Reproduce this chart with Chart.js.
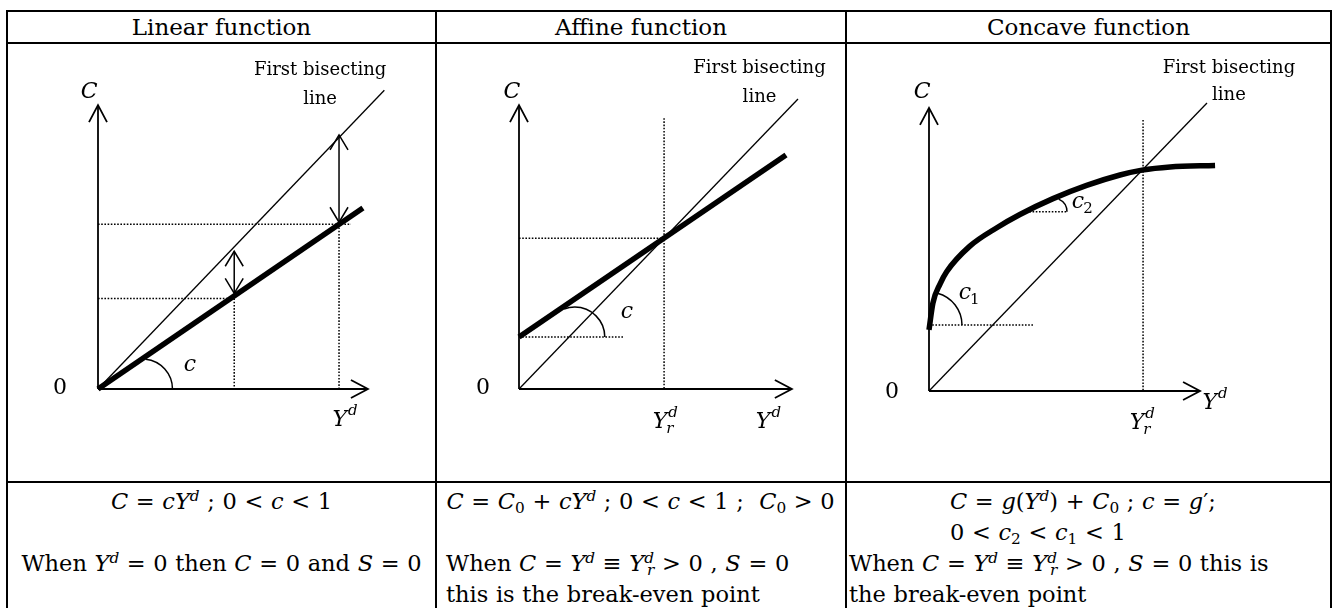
<!DOCTYPE html>
<html>
<head>
<meta charset="utf-8">
<script src="https://cdn.jsdelivr.net/npm/chart.js@4.4.1/dist/chart.umd.min.js"></script>
<style>
html, body { margin: 0; padding: 0; background: #fff; width: 1333px; height: 608px; overflow: hidden; }
body { font-family: "DejaVu Serif", serif; color: #000; position: relative; }
.hl, .vl { position: absolute; background: #000; }
.hl { height: 2px; left: 6px; width: 1326px; }
.vl { width: 2px; top: 10px; height: 620px; }
.head { position: absolute; top: 12px; height: 30px; line-height: 30px; text-align: center; font-size: 23px; }
.foot { position: absolute; top: 486px; font-size: 22.5px; line-height: 31px; white-space: nowrap; word-spacing: 0.5px; }
.foot sup, .foot sub { font-size: 0.68em; line-height: 0; }
.foot sup { vertical-align: 0.5em; }
.foot sub { vertical-align: -0.25em; }
canvas { position: absolute; }
</style>
</head>
<body>
<div class="hl" style="top:10px"></div>
<div class="hl" style="top:42px"></div>
<div class="hl" style="top:481px"></div>
<div class="vl" style="left:6px"></div>
<div class="vl" style="left:435px"></div>
<div class="vl" style="left:845px"></div>
<div class="vl" style="left:1330px"></div>

<div class="head" style="left:8px;width:427px">Linear function</div>
<div class="head" style="left:437px;width:408px">Affine function</div>
<div class="head" style="left:847px;width:483px">Concave function</div>

<canvas id="linear"></canvas>
<canvas id="affine"></canvas>
<canvas id="concave"></canvas>

<div class="foot" style="left:8px;width:427px;text-align:center">
  <div><i>C</i> = <i>cY</i><sup><i>d</i></sup> ; 0 &lt; <i>c</i> &lt; 1</div>
  <div>&nbsp;</div>
  <div>When <i>Y</i><sup><i>d</i></sup> = 0 then <i>C</i> = 0 and <i>S</i> = 0</div>
</div>
<div class="foot" style="left:446px;width:398px">
  <div style="text-align:center;margin-left:-9px"><i>C</i> = <i>C</i><sub>0</sub> + <i>cY</i><sup><i>d</i></sup> ; 0 &lt; <i>c</i> &lt; 1 ;&nbsp; <i>C</i><sub>0</sub> &gt; 0</div>
  <div>&nbsp;</div>
  <div>When <i>C</i> = <i>Y</i><sup><i>d</i></sup> ≡ <i>Y</i><sup><i>d</i></sup><sub style="margin-left:-0.45em"><i>r</i></sub> &gt; 0 , <i>S</i> = 0</div>
  <div>this is the break-even point</div>
</div>
<div class="foot" style="left:849px;width:480px">
  <div style="padding-left:101px"><i>C</i> = <i>g</i>(<i>Y</i><sup><i>d</i></sup>) + <i>C</i><sub>0</sub> ; <i>c</i> = <i>g</i>′;</div>
  <div style="padding-left:101px">0 &lt; <i>c</i><sub>2</sub> &lt; <i>c</i><sub>1</sub> &lt; 1</div>
  <div>When <i>C</i> = <i>Y</i><sup><i>d</i></sup> ≡ <i>Y</i><sup><i>d</i></sup><sub style="margin-left:-0.45em"><i>r</i></sub> &gt; 0 , <i>S</i> = 0 this is</div>
  <div>the break-even point</div>
</div>

<script>
// ---- Linear function: C = cY^d ----
const linAxisX = [[0, 0], [9.71, 0]];
const linAxisY = [[0, 0], [0, 9.79]];
const linBisect = [[0, 0], [10.3, 10.3]];
const linCons = [[0, 0], [9.53, 6.24]];
const linGuides = [
    [[0, 5.68], [9.1, 5.68]], [[8.67, 5.68], [8.67, 0]],
    [[0, 3.12], [4.9, 3.12]], [[4.9, 3.12], [4.9, 0]]
];
const linGaps = [[[4.9, 3.3], [4.9, 4.75]], [[8.67, 5.75], [8.67, 8.76]]];
const linArcCenters = [[1.6, 0]];

// ---- Affine function: C = C0 + cY^d ----
const affAxisX = [[0, 0], [9.78, 0]];
const affAxisY = [[0, 0], [0, 9.79]];
const affBisect = [[0, 0], [10, 10]];
const affCons = [[0, 1.79], [9.57, 8.07]];
const affGuides = [
    [[0, 5.2], [5.2, 5.2]], [[5.2, 9.34], [5.2, 0]],
    [[0, 1.79], [3.73, 1.79]]
];
const affArcCenters = [[2.0, 1.79]];

// ---- Concave function: C = g(Y^d) + C0 ----
const conAxisX = [[0, 0], [9.75, 0]];
const conAxisY = [[0, 0], [0, 9.83]];
const conBisect = [[0, 0], [10, 10]];
const conCurve = [
    [0, 2.12], [0.14, 3.05], [0.4, 3.72], [0.64, 4.15], [1.47, 5.03], [2.44, 5.67],
    [3.27, 6.13], [4.46, 6.68], [5.67, 7.14], [6.87, 7.5], [7.66, 7.67], [8.67, 7.78], [10.29, 7.83]
];
const conGuides = [
    [[0, 2.29], [3.74, 2.29]], [[3.38, 6.22], [4.96, 6.22]],
    [[7.7, 9.41], [7.7, 0]]
];
const conArcCenters = [[0, 2.29], [4.46, 6.22]];

const font = '"DejaVu Serif", serif';

function seg(points, style) {
    return Object.assign({
        data: points.map(p => ({ x: p[0], y: p[1] })),
        showLine: true,
        borderColor: '#000',
        pointRadius: 0,
        fill: false,
        tension: 0,
        clip: false
    }, style);
}

const axisStyle = { borderWidth: 1.8, heads: 'end', headLen: 17, headWid: 9 };
const bisectStyle = { borderWidth: 1.3 };
const consStyle = { borderWidth: 5.5, target: true };
const guideStyle = { borderWidth: 1.5, borderDash: [1.6, 1.6] };
const gapStyle = { borderWidth: 1.5, heads: 'both', headLen: 15, headWid: 9 };

// open arrow heads on the ends of a dataset
const arrowHeads = {
    id: 'arrowHeads',
    afterDatasetsDraw(chart) {
        const ctx = chart.ctx;
        chart.data.datasets.forEach((ds, i) => {
            if (!ds.heads) return;
            const pts = chart.getDatasetMeta(i).data;
            const a = pts[0], b = pts[pts.length - 1];
            const draw = (tip, from) => {
                const ang = Math.atan2(tip.y - from.y, tip.x - from.x);
                const cx = Math.cos(ang), sy = Math.sin(ang);
                const bx = tip.x - ds.headLen * cx, by = tip.y - ds.headLen * sy;
                ctx.beginPath();
                ctx.moveTo(bx - ds.headWid * sy, by + ds.headWid * cx);
                ctx.lineTo(tip.x, tip.y);
                ctx.lineTo(bx + ds.headWid * sy, by - ds.headWid * cx);
                ctx.stroke();
            };
            ctx.save();
            ctx.strokeStyle = '#000';
            ctx.lineWidth = ds.borderWidth;
            draw(b, a);
            if (ds.heads === 'both') draw(a, b);
            ctx.restore();
        });
    }
};

// angle arcs: start on the horizontal, end where they touch the consumption line
const angleArcs = {
    id: 'angleArcs',
    afterDatasetsDraw(chart, args, opts) {
        const ctx = chart.ctx;
        const ti = chart.data.datasets.findIndex(d => d.target);
        const half = chart.data.datasets[ti].borderWidth / 2;
        const line = chart.getDatasetMeta(ti).data.map(p => ({ x: p.x, y: p.y }));
        const lineY = x => {
            for (let k = 0; k < line.length - 1; k++) {
                const p = line[k], q = line[k + 1];
                if (x >= p.x && x <= q.x) return p.y + (q.y - p.y) * (x - p.x) / (q.x - p.x || 1);
            }
            return x < line[0].x ? Infinity : line[line.length - 1].y;
        };
        ctx.save();
        ctx.strokeStyle = '#000';
        ctx.lineWidth = 1.5;
        (opts.items || []).forEach(it => {
            const cx = chart.scales.x.getPixelForValue(it.c[0]);
            const cy = chart.scales.y.getPixelForValue(it.c[1]);
            let end = 0;
            for (let t = 0; t < Math.PI; t += 0.005) {
                const px = cx + it.r * Math.cos(t), py = cy - it.r * Math.sin(t);
                end = t;
                if (py <= lineY(px) + half) break;
            }
            ctx.beginPath();
            ctx.arc(cx, cy, it.r, 0, -end, true);
            ctx.stroke();
        });
        ctx.restore();
    }
};

// text labels, with italic math symbols and small sup / sub
const mathLabel = {
    id: 'mathLabel',
    afterDatasetsDraw(chart, args, opts) {
        const ctx = chart.ctx;
        ctx.save();
        ctx.fillStyle = '#000';
        ctx.textBaseline = 'middle';
        (opts.items || []).forEach(l => {
            const px = chart.scales.x.getPixelForValue(l.x);
            const py = chart.scales.y.getPixelForValue(l.y);
            const size = l.size || 22;
            ctx.textAlign = 'center';
            ctx.font = (l.math ? 'italic ' : '') + size + 'px ' + font;
            ctx.fillText(l.t, px, py);
            const w = ctx.measureText(l.t).width;
            ctx.textAlign = 'left';
            const small = Math.round(size * 0.68) + 'px ' + font;
            if (l.sup) {
                ctx.font = 'italic ' + small;
                ctx.fillText(l.sup, px + w / 2 + 1, py - size * 0.4);
            }
            if (l.sub) {
                ctx.font = (l.subUp ? '' : 'italic ') + small;
                ctx.fillText(l.sub, px + w / 2 - 1, py + size * 0.32);
            }
        });
        ctx.restore();
    }
};

function panel(id, box, origin, unit, datasets, labels, arcs) {
    const cv = document.getElementById(id);
    cv.width = box[2];
    cv.height = box[3];
    cv.style.left = box[0] + 'px';
    cv.style.top = box[1] + 'px';
    new Chart(cv, {
        type: 'scatter',
        data: { datasets: datasets },
        options: {
            responsive: false,
            animation: false,
            events: [],
            layout: { padding: 0 },
            scales: {
                x: { type: 'linear', display: false,
                     min: (box[0] - origin[0]) / unit[0],
                     max: (box[0] + box[2] - origin[0]) / unit[0] },
                y: { type: 'linear', display: false,
                     min: (origin[1] - box[1] - box[3]) / unit[1],
                     max: (origin[1] - box[1]) / unit[1] }
            },
            plugins: {
                legend: { display: false },
                tooltip: { enabled: false },
                angleArcs: { items: arcs },
                mathLabel: { items: labels }
            }
        },
        plugins: [arrowHeads, angleArcs, mathLabel]
    });
}

panel('linear', [9, 44, 426, 437], [98, 389], [27.8, 29], [
    seg(linCons, consStyle),
    seg(linAxisX, axisStyle),
    seg(linAxisY, axisStyle),
    seg(linBisect, bisectStyle),
    ...linGuides.map(g => seg(g, guideStyle)),
    ...linGaps.map(g => seg(g, gapStyle))
], [
    { t: 'First bisecting', x: 7.99, y: 11.0, size: 18 },
    { t: 'line', x: 7.99, y: 10.0, size: 18 },
    { t: 'C', x: -0.32, y: 10.24, math: true },
    { t: '0', x: -1.37, y: 0.03 },
    { t: 'c', x: 3.31, y: 0.83, math: true },
    { t: 'Y', x: 8.7, y: -1.07, math: true, sup: 'd' }
], linArcCenters.map(c => ({ c: c, r: 30 })));

panel('affine', [437, 44, 408, 437], [519, 389], [27.9, 29], [
    seg(affCons, consStyle),
    seg(affAxisX, axisStyle),
    seg(affAxisY, axisStyle),
    seg(affBisect, bisectStyle),
    ...affGuides.map(g => seg(g, guideStyle))
], [
    { t: 'First bisecting', x: 8.62, y: 11.07, size: 18 },
    { t: 'line', x: 8.62, y: 10.07, size: 18 },
    { t: 'C', x: -0.25, y: 10.24, math: true },
    { t: '0', x: -1.29, y: 0.03 },
    { t: 'c', x: 3.87, y: 2.66, math: true },
    { t: 'Y', x: 5.05, y: -1.14, math: true, sup: 'd', sub: 'r' },
    { t: 'Y', x: 8.75, y: -1.14, math: true, sup: 'd' }
], affArcCenters.map(c => ({ c: c, r: 30 })));

panel('concave', [847, 44, 483, 437], [929, 391], [27.8, 28.8], [
    seg(conCurve, Object.assign({}, consStyle, { cubicInterpolationMode: 'monotone' })),
    seg(conAxisX, axisStyle),
    seg(conAxisY, axisStyle),
    seg(conBisect, bisectStyle),
    ...conGuides.map(g => seg(g, guideStyle))
], [
    { t: 'First bisecting', x: 10.79, y: 11.22, size: 18 },
    { t: 'line', x: 10.79, y: 10.28, size: 18 },
    { t: 'C', x: -0.25, y: 10.38, math: true },
    { t: '0', x: -1.33, y: -0.03 },
    { t: 'c', x: 1.29, y: 3.4, math: true, sub: '1', subUp: true },
    { t: 'c', x: 5.36, y: 6.56, math: true, sub: '2', subUp: true },
    { t: 'Y', x: 10.1, y: -0.42, math: true, sup: 'd' },
    { t: 'Y', x: 7.48, y: -1.11, math: true, sup: 'd', sub: 'r' }
], [{ c: conArcCenters[0], r: 33 }, { c: conArcCenters[1], r: 14 }]);
</script>
</body>
</html>
